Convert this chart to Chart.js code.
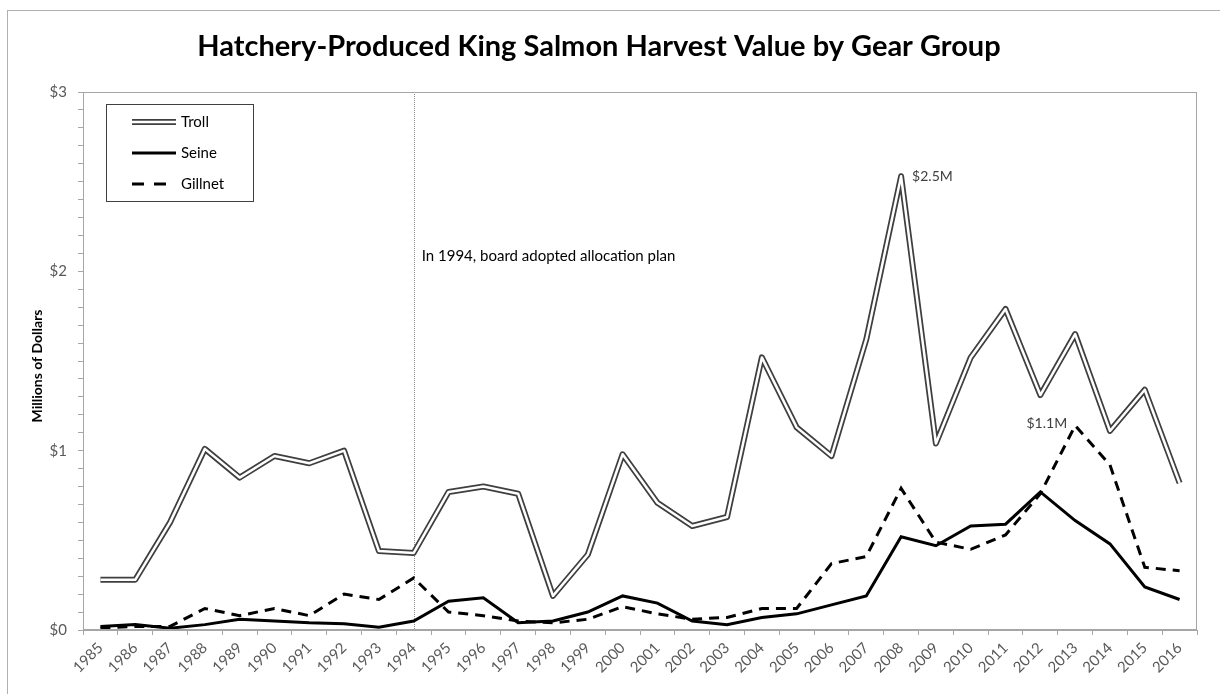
<!DOCTYPE html>
<html>
<head>
<meta charset="utf-8">
<script src="https://cdn.jsdelivr.net/npm/chart.js@4.4.1/dist/chart.umd.min.js"></script>
<style>
  html, body { margin: 0; padding: 0; background: #fff; }
  #wrap { position: relative; width: 1220px; height: 694px; }
</style>
</head>
<body>
<div id="wrap"><canvas id="salmonChart" width="1220" height="694"></canvas></div>
<script>
// 연도 (x축 카테고리)
const years = ["1985", "1986", "1987", "1988", "1989", "1990", "1991", "1992", "1993", "1994",
  "1995", "1996", "1997", "1998", "1999", "2000", "2001", "2002", "2003", "2004",
  "2005", "2006", "2007", "2008", "2009", "2010", "2011", "2012", "2013", "2014",
  "2015", "2016"];

// 어구별 수확 가치 (백만 달러)
const trollValues = [0.28, 0.28, 0.60, 1.01, 0.85, 0.97, 0.93, 1.00, 0.44, 0.43,
  0.77, 0.80, 0.76, 0.19, 0.42, 0.98, 0.71, 0.58, 0.63, 1.52,
  1.13, 0.97, 1.62, 2.53, 1.04, 1.52, 1.79, 1.31, 1.65, 1.11,
  1.34, 0.82];
const seineValues = [0.02, 0.03, 0.01, 0.03, 0.06, 0.05, 0.04, 0.035, 0.015, 0.05,
  0.16, 0.18, 0.04, 0.05, 0.10, 0.19, 0.15, 0.05, 0.03, 0.07,
  0.09, 0.14, 0.19, 0.52, 0.47, 0.58, 0.59, 0.77, 0.61, 0.48,
  0.24, 0.17];
const gillnetValues = [0.01, 0.02, 0.02, 0.12, 0.08, 0.12, 0.08, 0.20, 0.17, 0.29,
  0.10, 0.08, 0.05, 0.04, 0.06, 0.13, 0.09, 0.06, 0.07, 0.12,
  0.12, 0.37, 0.41, 0.79, 0.49, 0.45, 0.53, 0.76, 1.14, 0.92,
  0.35, 0.33];

// y축 눈금 라벨
const yLabels = ["$0", "$1", "$2", "$3"];

// 주석
const planYear = "1994";
const planNote = "In 1994, board adopted allocation plan";
const peakNotes = [
  { series: "troll", year: "2008", text: "$2.5M" },
  { series: "gillnet", year: "2013", text: "$1.1M" },
];

const FONT = "Lato, 'Open Sans', sans-serif";
const AXIS_GRAY = "#a6a6a6";
const TEXT_GRAY = "#595959";

Chart.defaults.font.family = FONT;

// 제목, 범례, 주석 등을 직접 그리는 플러그인
const decorPlugin = {
  id: "decor",
  beforeDatasetsDraw(chart) {
    const ctx = chart.ctx;
    const area = chart.chartArea;
    const x = chart.scales.x.getPixelForValue(years.indexOf(planYear));
    ctx.save();
    ctx.strokeStyle = "#8c8c8c";
    ctx.lineWidth = 1;
    ctx.setLineDash([1, 1]);
    ctx.beginPath();
    ctx.moveTo(Math.round(x) + 0.5, area.top);
    ctx.lineTo(Math.round(x) + 0.5, area.bottom);
    ctx.stroke();
    ctx.restore();
  },
  afterDraw(chart) {
    const ctx = chart.ctx;
    const area = chart.chartArea;
    const xs = chart.scales.x;
    const ys = chart.scales.y;
    ctx.save();

    // 바깥 테두리
    ctx.strokeStyle = "#b0b0b0";
    ctx.lineWidth = 1;
    ctx.strokeRect(7.5, 10.5, 1230, 700);

    // 플롯 영역 테두리
    ctx.strokeStyle = AXIS_GRAY;
    ctx.strokeRect(Math.round(area.left) + 0.5, Math.round(area.top) + 0.5,
      Math.round(area.right - area.left) - 1, Math.round(area.bottom - area.top) - 1);

    // 제목
    ctx.fillStyle = "#000";
    ctx.font = "bold 29px " + FONT;
    ctx.textAlign = "center";
    ctx.textBaseline = "middle";
    ctx.fillText("Hatchery-Produced King Salmon Harvest Value by Gear Group", 599, 47);

    // y축 제목
    ctx.save();
    ctx.translate(37, 366);
    ctx.rotate(-Math.PI / 2);
    ctx.font = "bold 14px " + FONT;
    ctx.fillText("Millions of Dollars", 0, 0);
    ctx.restore();

    // 1994 주석
    ctx.font = "15px " + FONT;
    ctx.textAlign = "left";
    ctx.fillStyle = "#000";
    const px = xs.getPixelForValue(years.indexOf(planYear));
    ctx.fillText(planNote, px + 8, 256);

    // 최고값 라벨
    ctx.font = "14px " + FONT;
    ctx.fillStyle = "#404040";
    peakNotes.forEach((n) => {
      const i = years.indexOf(n.year);
      const v = n.series === "troll" ? trollValues[i] : gillnetValues[i];
      const x = xs.getPixelForValue(i);
      const y = ys.getPixelForValue(v);
      if (n.series === "troll") {
        ctx.textAlign = "left";
        ctx.fillText(n.text, x + 11, y);
      } else {
        ctx.textAlign = "right";
        ctx.fillText(n.text, x - 8, y - 2);
      }
    });

    // 범례
    ctx.strokeStyle = "#404040";
    ctx.lineWidth = 1;
    ctx.strokeRect(106.5, 104.5, 147, 97);
    const legendRows = [
      { label: "Troll", y: 122, draw: "double" },
      { label: "Seine", y: 153, draw: "solid" },
      { label: "Gillnet", y: 184, draw: "dash" },
    ];
    legendRows.forEach((r) => {
      ctx.save();
      ctx.beginPath();
      ctx.moveTo(132, r.y);
      ctx.lineTo(176, r.y);
      if (r.draw === "double") {
        ctx.strokeStyle = "#3f3f3f";
        ctx.lineWidth = 6;
        ctx.stroke();
        ctx.strokeStyle = "#fff";
        ctx.lineWidth = 2.5;
        ctx.stroke();
      } else {
        ctx.strokeStyle = "#000";
        ctx.lineWidth = 3;
        if (r.draw === "dash") ctx.setLineDash([12, 10]);
        ctx.stroke();
      }
      ctx.restore();
      ctx.fillStyle = "#000";
      ctx.font = "15px " + FONT;
      ctx.textAlign = "left";
      ctx.textBaseline = "middle";
      ctx.fillText(r.label, 181, r.y);
    });

    ctx.restore();
  },
};

const salmonChart = new Chart(document.getElementById("salmonChart").getContext("2d"), {
  type: "line",
  data: {
    labels: years,
    datasets: [
      {
        label: "Troll inner",
        data: trollValues,
        borderColor: "#ffffff",
        borderWidth: 2.5,
        borderJoinStyle: "round",
        pointRadius: 0,
        tension: 0,
      },
      {
        label: "Troll",
        data: trollValues,
        borderColor: "#3f3f3f",
        borderWidth: 6,
        borderJoinStyle: "round",
        pointRadius: 0,
        tension: 0,
      },
      {
        label: "Seine",
        data: seineValues,
        borderColor: "#000000",
        borderWidth: 3,
        pointRadius: 0,
        tension: 0,
      },
      {
        label: "Gillnet",
        data: gillnetValues,
        borderColor: "#000000",
        borderWidth: 3,
        borderDash: [10, 7],
        pointRadius: 0,
        tension: 0,
      },
    ],
  },
  options: {
    responsive: false,
    animation: false,
    layout: {
      padding: { left: 0, top: 92, right: 23, bottom: 0 },
    },
    plugins: {
      legend: { display: false },
      tooltip: { enabled: false },
      title: { display: false },
    },
    scales: {
      x: {
        offset: true,
        grid: {
          offset: true,
          drawOnChartArea: false,
          drawTicks: true,
          tickLength: 5,
          color: AXIS_GRAY,
        },
        border: { display: true, color: AXIS_GRAY },
        ticks: {
          autoSkip: false,
          maxRotation: 45,
          minRotation: 45,
          padding: 4,
          color: TEXT_GRAY,
          font: { size: 15 },
        },
        afterFit(scale) {
          scale.height = 64;
        },
      },
      y: {
        min: 0,
        max: 3,
        grid: {
          drawOnChartArea: false,
          drawTicks: true,
          tickLength: 5,
          color: AXIS_GRAY,
        },
        border: { display: true, color: AXIS_GRAY },
        ticks: {
          stepSize: 0.1,
          maxTicksLimit: 40,
          autoSkip: false,
          padding: 11,
          color: TEXT_GRAY,
          font: { size: 15 },
          callback: function (v) {
            const r = Math.round(v);
            return Math.abs(v - r) < 1e-6 ? yLabels[r] : "";
          },
        },
        afterFit(scale) {
          scale.width = 83;
        },
      },
    },
  },
  plugins: [decorPlugin],
});
</script>
</body>
</html>
